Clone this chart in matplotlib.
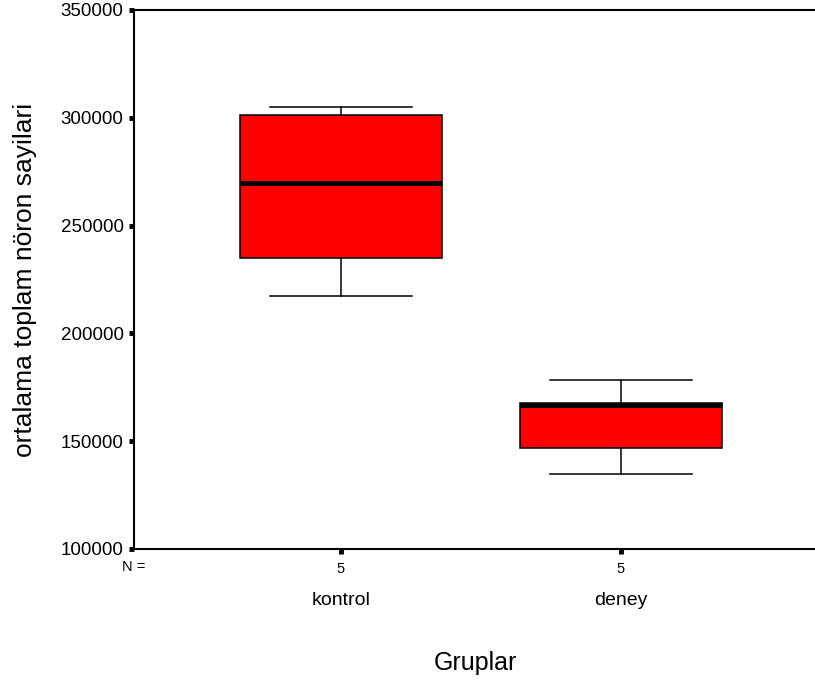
import matplotlib
matplotlib.use("Agg")
import matplotlib.pyplot as plt

plt.rcParams['font.family'] = ['Liberation Sans', 'DejaVu Sans']

# box statistics
groups = ['kontrol', 'deney']
n_counts = [5, 5]
whisker_low = [217500, 134700]
q1 = [235100, 147000]
median = [269900, 166900]
q3 = [301300, 167700]
whisker_high = [304900, 178400]

yticks = [100000, 150000, 200000, 250000, 300000, 350000]

stats = []
for i in range(len(groups)):
    stats.append({'label': groups[i], 'whislo': whisker_low[i], 'q1': q1[i],
                  'med': median[i], 'q3': q3[i], 'whishi': whisker_high[i],
                  'fliers': []})

positions = [1, 2]

fig = plt.figure(figsize=(8.15, 6.83), dpi=100)
ax = fig.add_axes([0.1644, 0.1962, 0.8356, 0.7892])

ax.bxp(stats, positions=positions, widths=0.72, patch_artist=True,
       showfliers=False,
       boxprops=dict(facecolor='#ff0000', edgecolor='black', linewidth=1.1),
       medianprops=dict(color='black', linewidth=3.6),
       whiskerprops=dict(color='black', linewidth=1.1),
       capprops=dict(color='black', linewidth=1.1),
       capwidths=0.505)

ax.set_xlim(0.261, 2.693)
ax.set_ylim(100000, 350000)
ax.set_yticks(yticks)
ax.set_yticklabels([str(v) for v in yticks], fontsize=13.5)
ax.set_xticks(positions)
ax.set_xticklabels([str(n) for n in n_counts], fontsize=10.5)

ax.tick_params(axis='both', direction='out', length=3.5, width=3.5, pad=4)
ax.tick_params(axis='x', pad=6)

ax.spines['right'].set_visible(False)
for s in ['left', 'bottom', 'top']:
    ax.spines[s].set_linewidth(1.5)

ax.text(0, -0.034, 'N =', transform=ax.transAxes, ha='center', va='center',
        fontsize=10.5)
tr = ax.get_xaxis_transform()
for p, g in zip(positions, groups):
    ax.text(p, -0.095, g, transform=tr, ha='center', va='center', fontsize=14)

fig.text(0.583, 0.03, 'Gruplar', ha='center', va='center', fontsize=18)
ax.set_ylabel('ortalama toplam nöron sayilari', fontsize=19, labelpad=17)

fig.savefig('out.png', dpi=100)
